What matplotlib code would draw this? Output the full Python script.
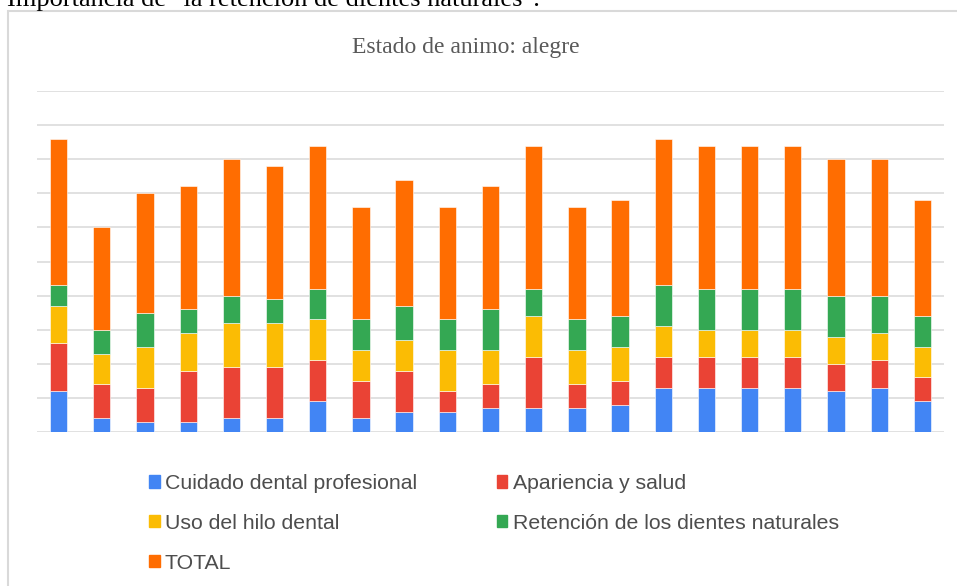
import matplotlib
matplotlib.use("Agg")
import matplotlib.pyplot as plt
from matplotlib.patches import Rectangle, Patch
import numpy as np

series = [
    "Cuidado dental profesional",
    "Apariencia y salud",
    "Uso del hilo dental",
    "Retención de los dientes naturales",
    "TOTAL",
]
colors = ["#4285F4", "#EA4335", "#FBBC04", "#34A853", "#FF6D01"]

cuidado = [12, 4, 3, 3, 4, 4, 9, 4, 6, 6, 7, 7, 7, 8, 13, 13, 13, 13, 12, 13, 9]
apariencia = [14, 10, 10, 15, 15, 15, 12, 11, 12, 6, 7, 15, 7, 7, 9, 9, 9, 9, 8, 8, 7]
hilo = [11, 9, 12, 11, 13, 13, 12, 9, 9, 12, 10, 12, 10, 10, 9, 8, 8, 8, 8, 8, 9]
retencion = [6, 7, 10, 7, 8, 7, 9, 9, 10, 9, 12, 8, 9, 9, 12, 12, 12, 12, 12, 11, 9]
total = [43, 30, 35, 36, 40, 39, 42, 33, 37, 33, 36, 42, 33, 34, 43, 42, 42, 42, 40, 40, 34]

W, H = 957, 586
fig = plt.figure(figsize=(W / 100, H / 100), dpi=100)

# recuadro del grafico
fig.patches.append(Rectangle((8 / W, -0.1), 1.2, 1.1 - 10.5 / H, transform=fig.transFigure,
                             fill=False, edgecolor="#d9d9d9", linewidth=1.5))

# texto del documento, cortado arriba
fig.text(7 / W, 1 - 6 / H, 'Importancia de "la retención de dientes naturales".',
         family="Liberation Serif", fontsize=19, color="black", va="baseline", ha="left")

fig.text(466 / W, 1 - 48 / H, "Estado de animo: alegre", family="Liberation Serif",
         fontsize=17, color="#595959", ha="center", va="center")

ax = fig.add_axes([37 / W, (H - 432) / H, 907 / W, (432 - 91) / H])
x = np.arange(len(total))
data = [cuidado, apariencia, hilo, retencion, total]
bottom = np.zeros(len(total))
for vals, c, name in zip(data, colors, series):
    ax.bar(x, vals, width=0.4, bottom=bottom, color=c, edgecolor="white", linewidth=0.4,
           label=name, zorder=3)
    bottom += np.array(vals)

ax.set_xlim(-0.5, len(total) - 0.5)
ax.set_ylim(0, 100)
ax.set_yticks(np.arange(0, 101, 10))
ax.grid(axis="y", color="#d9d9d9", linewidth=1.1, zorder=0)
ax.tick_params(left=False, bottom=False, labelleft=False, labelbottom=False)
for s in ax.spines.values():
    s.set_visible(False)

handles = [Patch(color=c) for c in colors]
order = [0, 2, 4, 1, 3]
leg = fig.legend([handles[i] for i in order], [series[i] for i in order],
                 loc="upper left", bbox_to_anchor=(149 / W, 1 - 474 / H), ncol=2,
                 frameon=False, handlelength=0.5, handleheight=0.5,
                 handletextpad=0.25, columnspacing=3.75, labelspacing=0.98,
                 borderpad=0, borderaxespad=0, labelcolor="#4d4d4d",
                 prop={"family": "Liberation Sans", "size": 15.3})

fig.savefig("out.png", dpi=100)
